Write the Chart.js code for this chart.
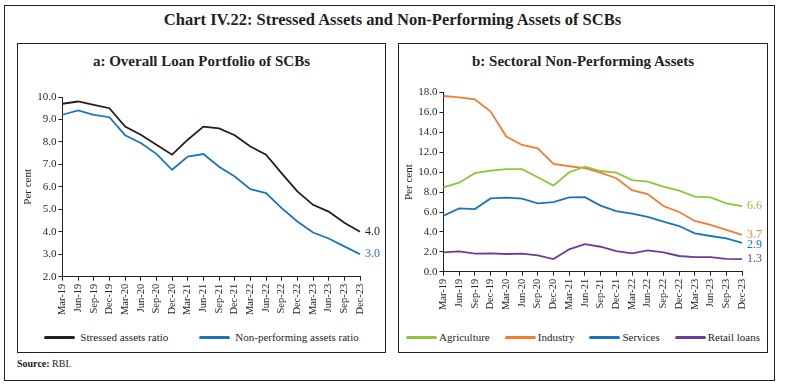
<!DOCTYPE html>
<html>
<head>
<meta charset="utf-8">
<script src="https://cdn.jsdelivr.net/npm/chart.js@4"></script>
<style>
    body { margin: 0; background: #fff; font-family: "Liberation Serif", serif; }
    #outer { position: absolute; left: 4px; top: 5px; width: 771px; height: 376px; border: 1.5px solid #231f20; box-sizing: border-box; }
    #main-title { position: absolute; left: 0; top: 10px; width: 785px; text-align: center; font-size: 16.5px; font-weight: bold; color: #231f20; }
    .panel { position: absolute; top: 43px; height: 310px; border: 1.2px solid #231f20; box-sizing: border-box; }
    .panel h3 { margin: 0; position: absolute; top: 9px; width: 100%; text-align: center; font-size: 15px; font-weight: bold; color: #231f20; }
    .panel .cw { position: absolute; left: 0; top: 40px; right: 0; bottom: 32px; }
    .legend { position: absolute; left: 0; right: 0; top: 287px; display: flex; justify-content: center; font-size: 11px; color: #231f20; line-height: 13px; }
    .legend .item { display: flex; align-items: center; }
    .legend .swatch { display: inline-block; width: 31px; height: 3px; border-radius: 1.5px; }
    #source { position: absolute; left: 17px; top: 358px; font-size: 10px; color: #231f20; }
</style>
</head>
<body>
<div id="outer"></div>
<div id="main-title">Chart IV.22: Stressed Assets and Non-Performing Assets of SCBs</div>
<div class="panel" style="left:17px; width:369px;">
    <h3>a: Overall Loan Portfolio of SCBs</h3>
    <div class="cw"><canvas id="chartA"></canvas></div>
    <div class="legend" id="legendA" style="gap:31px;"></div>
</div>
<div class="panel" style="left:398px; width:370px;">
    <h3>b: Sectoral Non-Performing Assets</h3>
    <div class="cw"><canvas id="chartB"></canvas></div>
    <div class="legend" id="legendB" style="gap:15px;"></div>
</div>
<div id="source"><b>Source:</b> RBI.</div>
<script>
// 四半期ラベル
const quarters = ['Mar-19', 'Jun-19', 'Sep-19', 'Dec-19', 'Mar-20', 'Jun-20', 'Sep-20', 'Dec-20',
    'Mar-21', 'Jun-21', 'Sep-21', 'Dec-21', 'Mar-22', 'Jun-22', 'Sep-22', 'Dec-22',
    'Mar-23', 'Jun-23', 'Sep-23', 'Dec-23'];

// パネルa
const stressedAssets = [9.7, 9.8, 9.65, 9.5, 8.68, 8.32, 7.87, 7.43, 8.1, 8.68, 8.6, 8.3, 7.8, 7.43, 6.6, 5.8, 5.2, 4.9, 4.4, 4.0];
const npaRatio = [9.21, 9.4, 9.2, 9.1, 8.3, 7.95, 7.47, 6.76, 7.35, 7.46, 6.9, 6.46, 5.9, 5.72, 5.05, 4.46, 3.97, 3.7, 3.35, 3.0];

// パネルb
const agriculture = [8.48, 8.95, 9.9, 10.16, 10.3, 10.3, 9.5, 8.65, 10.0, 10.56, 10.12, 9.96, 9.2, 9.05, 8.55, 8.15, 7.54, 7.48, 6.87, 6.6];
const industry = [17.66, 17.53, 17.33, 16.09, 13.58, 12.74, 12.4, 10.83, 10.6, 10.4, 9.95, 9.4, 8.2, 7.8, 6.6, 6.0, 5.1, 4.7, 4.2, 3.7];
const services = [5.63, 6.37, 6.3, 7.37, 7.44, 7.34, 6.87, 7.0, 7.47, 7.5, 6.64, 6.1, 5.83, 5.5, 5.03, 4.59, 3.85, 3.59, 3.35, 2.9];
const retailLoans = [1.94, 2.04, 1.81, 1.84, 1.78, 1.81, 1.64, 1.27, 2.25, 2.78, 2.51, 2.08, 1.84, 2.14, 1.94, 1.58, 1.47, 1.47, 1.3, 1.27];

const endLabelsA = ['4.0', '3.0'];
const endLabelsB = ['6.6', '3.7', '2.9', '1.3'];

const FONT = '"Liberation Serif", serif';
const INK = '#231f20';

// 系列の最後に値ラベルを描く
const endLabelPlugin = {
    id: 'endLabels',
    afterDatasetsDraw(chart, args, opts) {
        const ctx = chart.ctx;
        ctx.save();
        ctx.font = '12px ' + FONT;
        ctx.textBaseline = 'middle';
        chart.data.datasets.forEach((ds, i) => {
            const meta = chart.getDatasetMeta(i);
            const pt = meta.data[meta.data.length - 1];
            ctx.fillStyle = ds.borderColor;
            ctx.fillText(opts.labels[i], pt.x + 5, pt.y + (opts.dy ? opts.dy[i] : 0));
        });
        ctx.restore();
    }
};

function makeChart(id, datasets, yMax, yMin, step, labels, dy, padTop, padBottom) {
    return new Chart(document.getElementById(id), {
        type: 'line',
        data: { labels: quarters, datasets: datasets },
        plugins: [endLabelPlugin],
        options: {
            responsive: true,
            maintainAspectRatio: false,
            animation: false,
            layout: { padding: { left: 0, right: 25, top: padTop, bottom: padBottom } },
            elements: { point: { radius: 0 }, line: { borderWidth: 1.8, tension: 0 } },
            plugins: {
                endLabels: { labels: labels, dy: dy },
                tooltip: { enabled: false },
                legend: { display: false }
            },
            scales: {
                x: {
                    offset: false,
                    grid: { display: true, drawOnChartArea: false, tickLength: 4, color: INK },
                    border: { color: INK },
                    ticks: { maxRotation: 90, minRotation: 90, autoSkip: false, color: INK, font: { family: FONT, size: 10.5 } }
                },
                y: {
                    min: yMin,
                    max: yMax,
                    grid: { display: true, drawOnChartArea: false, tickLength: 4, color: INK },
                    border: { color: INK },
                    title: { display: true, text: 'Per cent', color: INK, padding: { top: 4, bottom: 0 }, font: { family: FONT, size: 11 } },
                    ticks: {
                        stepSize: step, autoSkip: false, padding: 2, color: INK, font: { family: FONT, size: 11 },
                        callback: v => Number(v).toFixed(1)
                    }
                }
            }
        }
    });
}

// 凡例（HTML）
function buildLegend(chart, id, textGap) {
    const box = document.getElementById(id);
    chart.data.datasets.forEach(d => {
        const item = document.createElement('span');
        item.className = 'item';
        item.innerHTML = `<span class="swatch" style="background:${d.borderColor}; margin-right:${textGap}px"></span>${d.label}`;
        box.appendChild(item);
    });
}

function ds(label, data, color) {
    return { label: label, data: data, borderColor: color, backgroundColor: color };
}

const chartA = makeChart('chartA', [
    ds('Stressed assets ratio', stressedAssets, '#231f20'),
    ds('Non-performing assets ratio', npaRatio, '#1a75bc')
], 10, 2, 1, endLabelsA, [0, 0], 13, 2);

const chartB = makeChart('chartB', [
    ds('Agriculture', agriculture, '#8cc63f'),
    ds('Industry', industry, '#f47b30'),
    ds('Services', services, '#1a75bc'),
    ds('Retail loans', retailLoans, '#6a3d9a')
], 18, 0, 2, endLabelsB, [0, 0, 2, 0], 8, 7);

buildLegend(chartA, 'legendA', 5);
buildLegend(chartB, 'legendB', 2);
</script>
</body>
</html>
